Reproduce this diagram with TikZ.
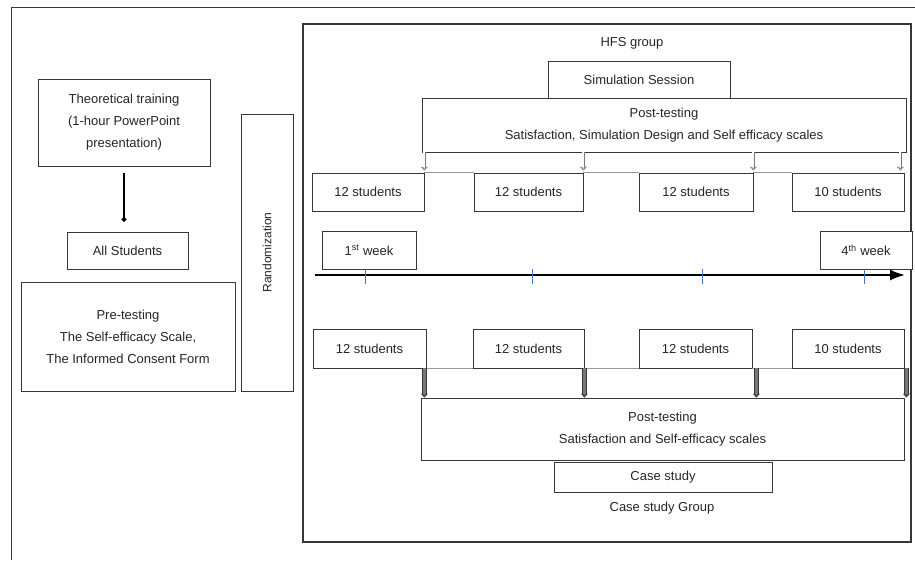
\documentclass[tikz,border=0pt]{standalone}
\usepackage{fontspec}
\setmainfont{Liberation Sans}
\definecolor{tickblue}{RGB}{68, 114, 196}
\definecolor{framegray}{RGB}{55, 55, 55}
\definecolor{linkgray}{RGB}{150, 150, 150}
\definecolor{arrowgray}{RGB}{120, 120, 120}
\usepackage{tikz}
\usetikzlibrary{arrows.meta, positioning, calc}

\begin{document}
\begin{tikzpicture}[x=1pt, y=-1pt,
  box/.style={draw=framegray, line width=0.8pt, fill=white, inner sep=0pt, align=center, text=black!85, font=\fontsize{13}{22}\selectfont},
  openarrow/.style={draw=arrowgray, line width=0.6pt, double=white, double distance=2pt, shorten >=2pt, -{Stealth[length=4pt, width=7pt, open, fill=white]}},
  fillarrow/.style={draw=framegray, line width=0.6pt, double=arrowgray, double distance=3pt, -{Stealth[length=4pt, width=7pt, fill=arrowgray]}}
]
  \useasboundingbox (0,0) rectangle (915,560);
  % outer frame
  \draw[framegray, line width=0.8pt] (915,7) -- (11,7) -- (11,560);

  % Before randomization
  \node[box, minimum width=172pt, minimum height=87pt] (theory) at (124,122.5) {Theoretical training\\(1-hour PowerPoint\\presentation)};
  \node[box, minimum width=121pt, minimum height=37pt] (allstud) at (127.5,250.5) {All Students};
  \node[box, minimum width=214pt, minimum height=109pt] (pretest) at (128,336.5) {Pre-testing\\The Self-efficacy Scale,\\The Informed Consent Form};
  \node[box, rotate=90, minimum width=277pt, minimum height=52pt, font=\fontsize{12}{14}\selectfont] (random) at (267,252.5) {Randomization};
  \draw[line width=2.4pt, -{Circle[length=4.5pt]}, shorten <=7pt, shorten >=10pt] (theory.south) -- (theory.south |- allstud.north);

  % HFS group
  \node[draw=framegray, line width=1.2pt, minimum width=608pt, minimum height=518pt] (hfs) at (607,283) {};
  \node[text=black!85, font=\fontsize{13}{22}\selectfont] (hfslabel) at (632,43) {HFS group};
  \node[box, minimum width=182pt, minimum height=37pt] (sim) at (639,79.5) {Simulation Session};
  \node[box, minimum width=484pt, minimum height=54pt] (posttop) at (664,125) {Post-testing\\Satisfaction, Simulation Design and Self efficacy scales};

  \node[box, minimum width=112pt, minimum height=38pt] (top1) at (368,192) {12 students};
  \node[box, minimum width=109pt, minimum height=38pt] (top2) at (528.5,192) {12 students};
  \node[box, minimum width=114pt, minimum height=38pt] (top3) at (696,192) {12 students};
  \node[box, minimum width=112pt, minimum height=38pt] (top4) at (848,192) {10 students};
  \draw[linkgray, line width=0.8pt] (top1.north east) -- (top2.north west) (top2.north east) -- (top3.north west) (top3.north east) -- (top4.north west);

  \draw[openarrow] (top1.north east |- posttop.south) -- (top1.north east);
  \draw[openarrow] (top2.north east |- posttop.south) -- (top2.north east);
  \draw[openarrow] (top3.north east |- posttop.south) -- (top3.north east);
  \draw[openarrow] ([xshift=-4pt]top4.north east |- posttop.south) -- ([xshift=-4pt]top4.north east);

  % Timeline
  \node[box, minimum width=94pt, minimum height=38pt] (week1) at (369,250) {1\textsuperscript{st} week};
  \node[box, minimum width=92pt, minimum height=38pt] (week4) at (866,250) {4\textsuperscript{th} week};
  \coordinate (tlstart) at (315,275);
  \coordinate (tlend) at (905,275);
  \draw[line width=2pt, -{Latex[length=15pt, width=11pt]}] (tlstart) -- (tlend);
  \foreach \tx in {365,532,702,864}
    \draw[tickblue, line width=1pt] (\tx,269) -- (\tx,284);

  % Case study group
  \node[box, minimum width=113pt, minimum height=39pt] (bot1) at (369.5,348.5) {12 students};
  \node[box, minimum width=111pt, minimum height=39pt] (bot2) at (528.5,348.5) {12 students};
  \node[box, minimum width=113pt, minimum height=39pt] (bot3) at (695.5,348.5) {12 students};
  \node[box, minimum width=112pt, minimum height=39pt] (bot4) at (848,348.5) {10 students};
  \draw[linkgray, line width=0.8pt] (bot1.south east) -- (bot2.south west) (bot2.south east) -- (bot3.south west) (bot3.south east) -- (bot4.south west);

  \node[box, minimum width=483pt, minimum height=62pt] (postbot) at (662.5,429) {Post-testing\\Satisfaction and Self-efficacy scales};
  \node[box, minimum width=218pt, minimum height=30pt] (casestudy) at (663,477) {Case study};
  \node[text=black!85, font=\fontsize{13}{22}\selectfont] (cslabel) at (662,508) {Case study Group};

  \draw[fillarrow] ([xshift=-2pt]bot1.south east) -- ([xshift=-2pt]bot1.south east |- postbot.north);
  \draw[fillarrow] (bot2.south east) -- (bot2.south east |- postbot.north);
  \draw[fillarrow] ([xshift=4pt]bot3.south east) -- ([xshift=4pt]bot3.south east |- postbot.north);
  \draw[fillarrow] ([xshift=2pt]bot4.south east) -- ([xshift=2pt]bot4.south east |- postbot.north);
\end{tikzpicture}
\end{document}
